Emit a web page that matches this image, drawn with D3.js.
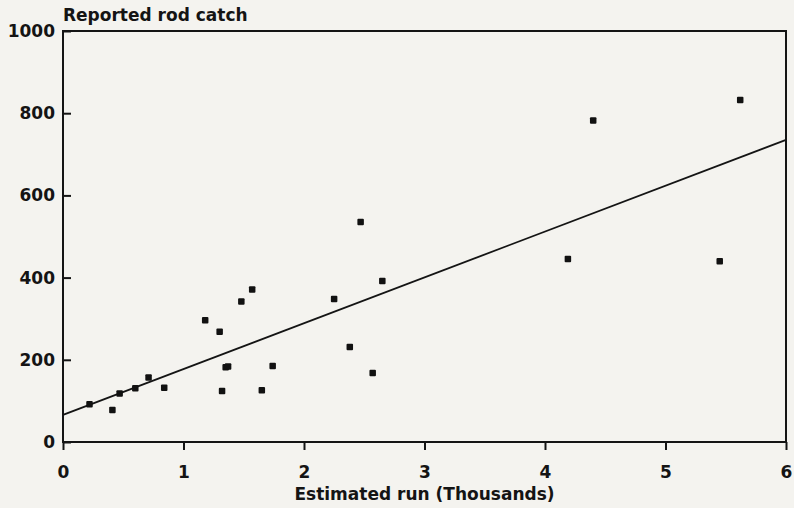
<!DOCTYPE html>
<html>
<head>
<meta charset="utf-8">
<script src="https://cdn.jsdelivr.net/npm/d3@7"></script>
<style>
  body { margin: 0; background: #f4f3ef; }
  svg { display: block; }
  text { font-family: "DejaVu Sans", Verdana, sans-serif; font-weight: bold; fill: #141414; }
</style>
</head>
<body>
<script>
// estimated run (thousands) vs reported rod catch
let runs = [0.22, 0.41, 0.47, 0.60, 0.71, 0.84, 1.18, 1.30, 1.32, 1.35, 1.37, 1.48, 1.57,
  1.65, 1.74, 2.25, 2.38, 2.47, 2.57, 2.65, 4.19, 4.40, 5.45, 5.62];
let catches = [92, 78, 118, 131, 157, 132, 296, 268, 124, 182, 184, 342, 371,
  126, 185, 348, 231, 535, 168, 392, 445, 782, 440, 832];

// fitted line end points
let fitX = [0, 6];
let fitY = [66, 735];

let xTicks = [0, 1, 2, 3, 4, 5, 6];
let yTicks = [0, 200, 400, 600, 800, 1000];

let svg = d3.select('body')
  .append('svg')
  .attr('width', 794)
  .attr('height', 508);

let x = d3.scaleLinear().domain([0, 6]).range([63, 786]);
let y = d3.scaleLinear().domain([0, 1000]).range([442, 31]);

// x axis, ticks pointing down
svg.append('g')
  .attr('transform', `translate(0,${y(0)})`)
  .call(d3.axisBottom(x).tickValues(xTicks).tickFormat(d3.format('d'))
    .tickSize(8).tickSizeOuter(0).tickPadding(16))
  .call(g => g.select('.domain').remove())
  .call(g => g.selectAll('line').attr('stroke', '#141414').attr('stroke-width', 2))
  .call(g => g.selectAll('text').attr('font-size', 17));

// y axis, ticks pointing in
svg.append('g')
  .attr('transform', `translate(${x(0)},0)`)
  .call(d3.axisLeft(y).tickValues(yTicks).tickFormat(d3.format('d'))
    .tickSize(-8).tickSizeOuter(0).tickPadding(8))
  .call(g => g.select('.domain').remove())
  .call(g => g.selectAll('line').attr('stroke', '#141414').attr('stroke-width', 2))
  .call(g => g.selectAll('text').attr('font-size', 17));

// frame
svg.append('rect')
  .attr('x', x(0))
  .attr('y', y(1000))
  .attr('width', x(6) - x(0))
  .attr('height', y(0) - y(1000))
  .attr('fill', 'none')
  .attr('stroke', '#141414')
  .attr('stroke-width', 2);

// regression line
svg.append('line')
  .attr('x1', x(fitX[0]))
  .attr('y1', y(fitY[0]))
  .attr('x2', x(fitX[1]))
  .attr('y2', y(fitY[1]))
  .attr('stroke', '#141414')
  .attr('stroke-width', 1.8);

// points
let size = 6.5;
svg.selectAll('rect.pt').data(runs)
  .enter().append('rect')
  .attr('class', 'pt')
  .attr('x', (d, i) => x(d) - size / 2)
  .attr('y', (d, i) => y(catches[i]) - size / 2)
  .attr('width', size)
  .attr('height', size)
  .attr('rx', 1)
  .attr('fill', '#111');

svg.append('text')
  .attr('x', 63)
  .attr('y', 21)
  .attr('font-size', 17)
  .text('Reported rod catch');

svg.append('text')
  .attr('x', x(3))
  .attr('y', 500)
  .attr('text-anchor', 'middle')
  .attr('font-size', 17)
  .text('Estimated run (Thousands)');
</script>
</body>
</html>
